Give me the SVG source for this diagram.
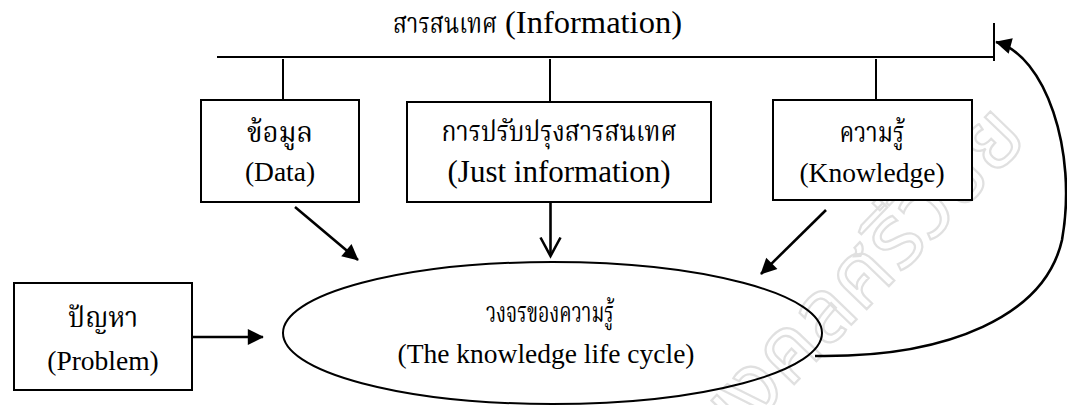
<svg xmlns="http://www.w3.org/2000/svg" width="1067" height="405" viewBox="0 0 1067 405">
<defs>
<style>
.box{fill:#fff;stroke:#000;stroke-width:2}
.ln{fill:none;stroke:#000;stroke-width:2}
.arr{fill:none;stroke:#000;stroke-width:2.6}
.th{font-family:"Norasi","Noto Serif Thai","Noto Sans Thai","Garuda","Loma","Liberation Serif",serif;fill:#000}
.en{font-family:"Liberation Serif","Times New Roman",serif;fill:#000}
.wm{font-family:"Noto Sans Thai","Garuda","Loma",sans-serif;fill:none;stroke:#e0e0e0;stroke-width:2.2}
</style>
<marker id="big" viewBox="0 0 10 10" refX="9.5" refY="5" markerWidth="20" markerHeight="16" markerUnits="userSpaceOnUse" orient="auto">
<path d="M0,0 L10,5 L0,10 z" fill="#000"/>
</marker>
</defs>

<text class="wm" transform="translate(1030,140) rotate(-46)" text-anchor="end" font-size="88">มงคลศรีวิชัย</text>

<g id="information">
<text x="393" y="33" class="th" font-size="28" textLength="104" lengthAdjust="spacingAndGlyphs">สารสนเทศ</text>
<text x="505" y="33" class="en" font-size="32" textLength="177" lengthAdjust="spacingAndGlyphs">(Information)</text>
<line x1="217" y1="57" x2="994" y2="57" class="ln"/>
<line x1="994" y1="23" x2="994" y2="61" class="ln"/>
</g>

<g id="data">
<rect x="201" y="100" width="158" height="102" class="box"/>
<text x="280" y="142" class="th" font-size="28" text-anchor="middle" textLength="66" lengthAdjust="spacingAndGlyphs">ข้อมูล</text>
<text x="280" y="181" class="en" font-size="27.5" text-anchor="middle">(Data)</text>
</g>

<g id="just-information">
<rect x="407" y="102" width="304" height="100" class="box"/>
<text x="559" y="141" class="th" font-size="28" text-anchor="middle" textLength="235" lengthAdjust="spacingAndGlyphs">การปรับปรุงสารสนเทศ</text>
<text x="559" y="182" class="en" font-size="31" text-anchor="middle">(Just information)</text>
</g>

<g id="knowledge">
<rect x="773" y="100" width="199" height="100" class="box"/>
<text x="872" y="142" class="th" font-size="28" text-anchor="middle" textLength="65" lengthAdjust="spacingAndGlyphs">ความรู้</text>
<text x="872" y="182" class="en" font-size="27.5" text-anchor="middle">(Knowledge)</text>
</g>

<g id="problem">
<rect x="14" y="283" width="178" height="107" class="box"/>
<text x="103" y="327" class="th" font-size="28" text-anchor="middle" textLength="70" lengthAdjust="spacingAndGlyphs">ปัญหา</text>
<text x="103" y="370" class="en" font-size="27.5" text-anchor="middle">(Problem)</text>
</g>

<g id="knowledge-life-cycle">
<ellipse cx="552.5" cy="333" rx="269.5" ry="71" class="box" fill-opacity="0"/>
<text x="550" y="322" class="th" font-size="28" text-anchor="middle" textLength="128" lengthAdjust="spacingAndGlyphs">วงจรของความรู้</text>
<text x="546" y="363" class="en" font-size="27.5" text-anchor="middle">(The knowledge life cycle)</text>
</g>

<g id="connectors">
<line x1="283" y1="59" x2="283" y2="100" class="ln"/>
<line x1="550" y1="59" x2="550" y2="102" class="ln"/>
<line x1="876" y1="59" x2="876" y2="100" class="ln"/>
<line x1="295" y1="207" x2="358" y2="260" class="arr" marker-end="url(#big)"/>
<line x1="826" y1="210" x2="761" y2="274" class="arr" marker-end="url(#big)"/>
<line x1="550.5" y1="202" x2="550.5" y2="255" class="arr"/>
<path d="M540.5,237.5 L550.5,256 L560.5,237.5" class="arr"/>
<line x1="192" y1="337" x2="263" y2="337" class="arr" marker-end="url(#big)"/>
<path d="M815,356 C950,358 1045,315 1062,240 C1078,150 1045,55 996,42" class="arr" marker-end="url(#big)"/>
</g>
</svg>
